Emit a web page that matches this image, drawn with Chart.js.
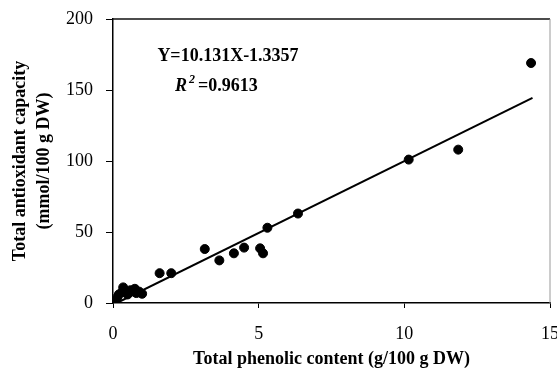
<!DOCTYPE html>
<html>
<head>
<meta charset="utf-8">
<script src="https://cdn.jsdelivr.net/npm/chart.js@4"></script>
<style>
  html, body { margin: 0; padding: 0; background: #fff; }
  #wrap { width: 557px; height: 373px; }
</style>
</head>
<body>
<div id="wrap"><canvas id="chart" width="557" height="373"></canvas></div>
<script>
// values
const phenolic = [0.05, 0.15, 0.2, 0.3, 0.35, 0.45, 0.5, 0.6, 0.75, 0.8, 0.9, 1.0,
    1.6, 2.0, 3.15, 3.65, 4.15, 4.5, 5.05, 5.15, 5.3, 6.35, 10.15, 11.85, 14.35];
const antioxidant = [1, 4, 6, 7.5, 11, 8, 6, 9, 10, 7, 8, 6.5,
    21, 21, 38, 30, 35, 39, 38.5, 35, 53, 63, 101, 108, 169];
// ends of the fitted line
const trendX = [0.13, 14.4];
const trendY = [0, 144.5];

const xTitle = 'Total phenolic content (g/100 g DW)';
const yTitle = ['Total antioxidant capacity', '(mmol/100 g DW)'];
const eqLine = 'Y=10.131X-1.3357';
const r2Value = '=0.9613';

const serif = '"Liberation Serif", "Times New Roman", serif';

const frame = {
    id: 'frame',
    beforeDatasetsDraw(chart) {
        const { ctx, chartArea: a } = chart;
        ctx.save();
        ctx.lineWidth = 1.5;
        ctx.strokeStyle = '#111';
        ctx.beginPath();
        ctx.moveTo(a.left, a.top);
        ctx.lineTo(a.right, a.top);
        ctx.stroke();
        ctx.strokeStyle = '#999';
        ctx.lineWidth = 1;
        ctx.beginPath();
        ctx.moveTo(a.right, a.top);
        ctx.lineTo(a.right, a.bottom);
        ctx.stroke();
        ctx.restore();
    }
};

const equation = {
    id: 'equation',
    afterDraw(chart) {
        const ctx = chart.ctx;
        ctx.save();
        ctx.fillStyle = '#000';
        ctx.textBaseline = 'alphabetic';
        ctx.font = 'bold 18px ' + serif;
        ctx.textAlign = 'center';
        ctx.fillText(eqLine, 228, 61);

        ctx.textAlign = 'left';
        let x = 175;
        ctx.font = 'italic bold 18px ' + serif;
        ctx.fillText('R', x, 91);
        x += ctx.measureText('R').width + 2;
        ctx.font = 'italic bold 12px ' + serif;
        ctx.fillText('2', x, 83);
        x += ctx.measureText('2').width + 3;
        ctx.font = 'bold 18px ' + serif;
        ctx.fillText(r2Value, x, 91);
        ctx.restore();
    }
};

new Chart(document.getElementById('chart').getContext('2d'), {
    type: 'scatter',
    data: {
        datasets: [{
            data: phenolic.map((v, i) => ({ x: v, y: antioxidant[i] })),
            backgroundColor: '#000',
            borderColor: '#000',
            pointRadius: 4.5,
            pointHoverRadius: 4.5
        }, {
            type: 'line',
            data: trendX.map((v, i) => ({ x: v, y: trendY[i] })),
            borderColor: '#000',
            borderWidth: 2,
            pointRadius: 0,
            fill: false
        }]
    },
    options: {
        responsive: false,
        animation: false,
        layout: { padding: { top: 19, right: 7, left: 0, bottom: 0 } },
        plugins: {
            legend: { display: false },
            tooltip: { enabled: false }
        },
        scales: {
            x: {
                type: 'linear',
                min: 0,
                max: 15,
                ticks: {
                    stepSize: 5,
                    color: '#000',
                    padding: 15,
                    maxRotation: 0,
                    font: { family: serif, size: 18 }
                },
                grid: {
                    drawOnChartArea: false,
                    tickLength: 5,
                    color: '#000'
                },
                border: { color: '#000', width: 1.5 },
                title: {
                    display: true,
                    text: xTitle,
                    color: '#000',
                    font: { family: serif, size: 18, weight: 'bold' },
                    padding: { top: 0, bottom: 3 }
                },
                afterFit(scale) {
                    scale.height = 70;
                    scale.paddingLeft = 0;
                    scale.paddingRight = 0;
                }
            },
            y: {
                min: 0,
                max: 200,
                ticks: {
                    stepSize: 50,
                    color: '#000',
                    padding: 13,
                    font: { family: serif, size: 18 }
                },
                grid: {
                    drawOnChartArea: false,
                    tickLength: 7,
                    color: '#000'
                },
                border: { color: '#000', width: 1.5 },
                title: {
                    display: true,
                    text: yTitle,
                    color: '#000',
                    font: { family: serif, size: 18, weight: 'bold', lineHeight: 1.3 },
                    padding: { top: 9, bottom: 0 }
                },
                afterFit(scale) {
                    scale.width = 113;
                    scale.paddingTop = 0;
                    scale.paddingBottom = 0;
                }
            }
        }
    },
    plugins: [frame, equation]
});
</script>
</body>
</html>
